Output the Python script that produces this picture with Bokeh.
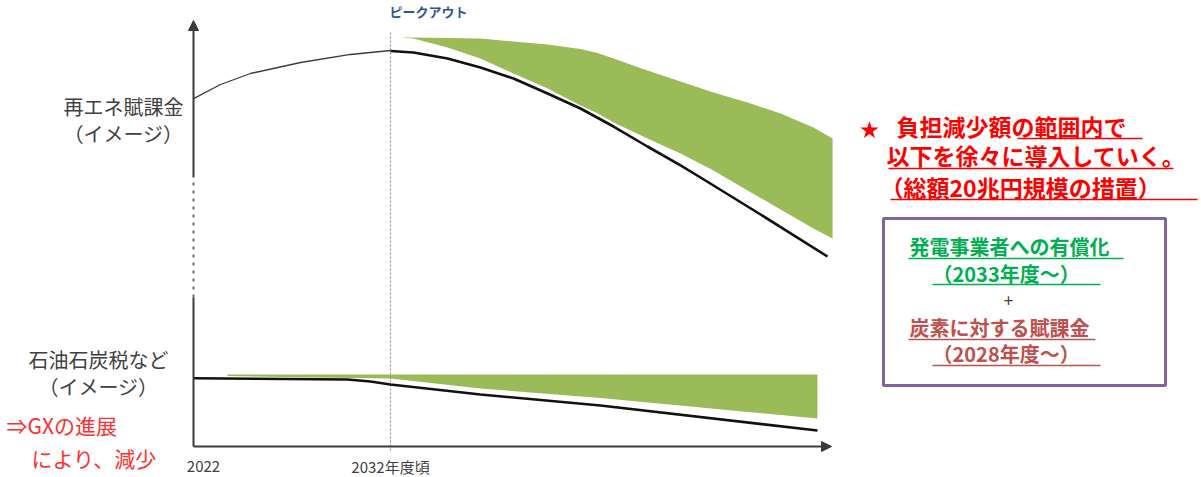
from bokeh.plotting import figure
from bokeh.models import Range1d, Arrow, NormalHead
from bokeh.core.properties import value
from bokeh.embed import file_html
from bokeh.resources import INLINE

# ---------------- data (years, relative level) ----------------
xticks = [2022, 2032]
xtick_labels = ["2022", "2032年度頃"]
peak_year = 2032

# 再エネ賦課金: rising part up to the peak
re_pre_x = [2021.47, 2022.91, 2024.51, 2027.19, 2029.86, 2032.0]
re_pre_y = [82.6, 85.95, 88.57, 91.19, 93.1, 94.05]
# 再エネ賦課金: after the peak
re_post_x = [2032.0, 2033.23, 2035.05, 2036.81, 2038.58, 2040.40, 2042.16, 2043.93,
             2045.74, 2047.51, 2048.58, 2051.79, 2055.37]
re_post_y = [93.93, 93.57, 92.14, 90.0, 87.38, 83.81, 80.24, 75.95,
             71.19, 66.67, 63.81, 55.0, 45.0]
# green band above 再エネ賦課金 (burden reduction range)
re_band_x = [2032.53, 2033.23, 2035.05, 2036.81, 2038.58, 2040.40, 2042.16, 2043.07,
             2043.93, 2045.74, 2047.51, 2049.27, 2051.09, 2052.86, 2054.62, 2055.64]
re_band_top = [97.14, 97.14, 97.02, 96.90, 96.19, 95.48, 94.40, 93.45,
               92.14, 89.29, 86.67, 84.05, 81.67, 79.05, 75.71, 73.10]
re_band_bot = [97.14, 96.90, 94.76, 92.14, 88.57, 85.0, 80.95, 79.10,
               76.90, 73.10, 69.52, 65.48, 60.71, 56.19, 51.67, 49.29]

# 石油石炭税など
oil_x = [2021.47, 2029.70, 2030.93, 2032.0, 2036.81, 2043.23, 2054.83]
oil_y = [16.02, 15.71, 15.24, 14.52, 12.14, 9.52, 3.57]
oil_band_x = [2023.28, 2027.88, 2032.0, 2036.81, 2043.23, 2054.83]
oil_band_top = [16.90, 16.90, 16.90, 16.90, 16.90, 16.90]
oil_band_bot = [16.55, 16.19, 15.95, 13.57, 11.31, 6.43]

# ---------------- layout helpers (canvas pixels -> data) ----------------
W, H = 1201, 477

def X(px):
    return 2022 + (px - 203) / 18.7

def Y(py):
    return (445 - py) / 4.2

FONT = value("Noto Sans CJK JP")
AXIS_COLOR = "#3a3a3a"
GREEN = "#9bbb59"

p = figure(width=W, height=H, output_backend="svg", toolbar_location=None,
           x_range=Range1d(X(0), X(W)), y_range=Range1d(Y(H), Y(0)),
           min_border=0, x_axis_location=None, y_axis_location=None,
           outline_line_color=None)
p.grid.visible = False
p.background_fill_color = "white"

# green bands
p.varea(x=re_band_x, y1=re_band_bot, y2=re_band_top, fill_color=GREEN)
p.varea(x=oil_band_x, y1=oil_band_bot, y2=oil_band_top, fill_color=GREEN)

# peak dashed line
p.line(x=[peak_year, peak_year], y=[Y(32), Y(452)], line_color="#8a8a8a",
       line_width=1, line_dash="2 2")

# curves
p.line(x=re_pre_x, y=re_pre_y, line_color="#3c3c3c", line_width=1.3)
p.line(x=re_post_x, y=re_post_y, line_color="#111111", line_width=2.6)
p.line(x=oil_x, y=oil_y, line_color="#111111", line_width=2.6)

# axes (drawn with arrows; y axis has a broken/dashed middle part)
yax = X(193)
p.line(x=[yax, yax], y=[Y(446), Y(297)], line_color=AXIS_COLOR, line_width=2)
p.line(x=[yax, yax], y=[Y(297), Y(177)], line_color="#6a6a6a", line_width=2,
       line_dash="3 5")
p.add_layout(Arrow(end=NormalHead(size=10, fill_color=AXIS_COLOR, line_color=AXIS_COLOR),
                   x_start=yax, y_start=Y(177), x_end=yax, y_end=Y(20),
                   line_color=AXIS_COLOR, line_width=2))
p.add_layout(Arrow(end=NormalHead(size=10, fill_color=AXIS_COLOR, line_color=AXIS_COLOR),
                   x_start=yax, y_start=Y(446), x_end=X(831), y_end=Y(446),
                   line_color=AXIS_COLOR, line_width=2))

# tick labels
p.text(x=xticks, y=[Y(466)] * len(xticks), text=xtick_labels, text_font=FONT,
       text_font_size="15px", text_color="#404040", text_align="center",
       text_baseline="middle")

# top label
p.text(x=[X(428)], y=[Y(1)], text=["ピークアウト"], text_font=FONT,
       text_font_size="13px", text_font_style="bold", text_color="#2f5597",
       text_align="center", text_baseline="top")

# left labels
p.text(x=[X(123), X(123)], y=[Y(106), Y(133)], text=["再エネ賦課金", "（イメージ）"],
       text_font=FONT, text_font_size="20px", text_color="#404040",
       text_align="center", text_baseline="middle")
p.text(x=[X(98), X(98)], y=[Y(359), Y(386)], text=["石油石炭税など", "（イメージ）"],
       text_font=FONT, text_font_size="20px", text_color="#404040",
       text_align="center", text_baseline="middle")
p.text(x=[X(6), X(31)], y=[Y(424), Y(457)], text=["⇒GXの進展", "により、減少"],
       text_font=FONT, text_font_size="21px", text_color="#ff3030",
       text_align="left", text_baseline="middle")

# right red statement
RED = "#ff0000"
p.text(x=[X(869)], y=[Y(128)], text=["★"], text_font=FONT, text_font_size="19px",
       text_color=RED, text_align="center", text_baseline="middle")
p.text(x=[X(896), X(886), X(880)], y=[Y(125), Y(154), Y(186)],
       text=["負担減少額の範囲内で", "以下を徐々に導入していく。", "（総額20兆円規模の措置）"],
       text_font=FONT, text_font_size="23px", text_font_style="bold", text_color=RED,
       text_align="left", text_baseline="middle")
p.segment(x0=[X(1017), X(888), X(890)], y0=[Y(138), Y(168), Y(199)],
          x1=[X(1142), X(1173), X(1197)], y1=[Y(138), Y(168), Y(199)],
          line_color=RED, line_width=1.5)

# purple box
p.quad(left=[X(883)], right=[X(1165)], top=[Y(218)], bottom=[Y(385)],
       fill_color=None, line_color="#8064a2", line_width=3)

GX_GREEN = "#00b050"
BROWN = "#c0504d"
p.text(x=[X(909), X(932)], y=[Y(246), Y(273)],
       text=["発電事業者への有償化", "（2033年度～）"],
       text_font=FONT, text_font_size="20px", text_font_style="bold", text_color=GX_GREEN,
       text_align="left", text_baseline="middle")
p.segment(x0=[X(908), X(932)], y0=[Y(258), Y(284)], x1=[X(1123), X(1100)],
          y1=[Y(258), Y(284)], line_color=GX_GREEN, line_width=1.5)
p.text(x=[X(1008)], y=[Y(300)], text=["+"], text_font=FONT, text_font_size="17px",
       text_color="#404040", text_align="center", text_baseline="middle")
p.text(x=[X(909), X(932)], y=[Y(327), Y(353)],
       text=["炭素に対する賦課金", "（2028年度～）"],
       text_font=FONT, text_font_size="20px", text_font_style="bold", text_color=BROWN,
       text_align="left", text_baseline="middle")
p.segment(x0=[X(908), X(932)], y0=[Y(339), Y(365)], x1=[X(1095), X(1100)],
          y1=[Y(339), Y(365)], line_color=BROWN, line_width=1.5)

open("out.html", "w").write(file_html(p, INLINE))
